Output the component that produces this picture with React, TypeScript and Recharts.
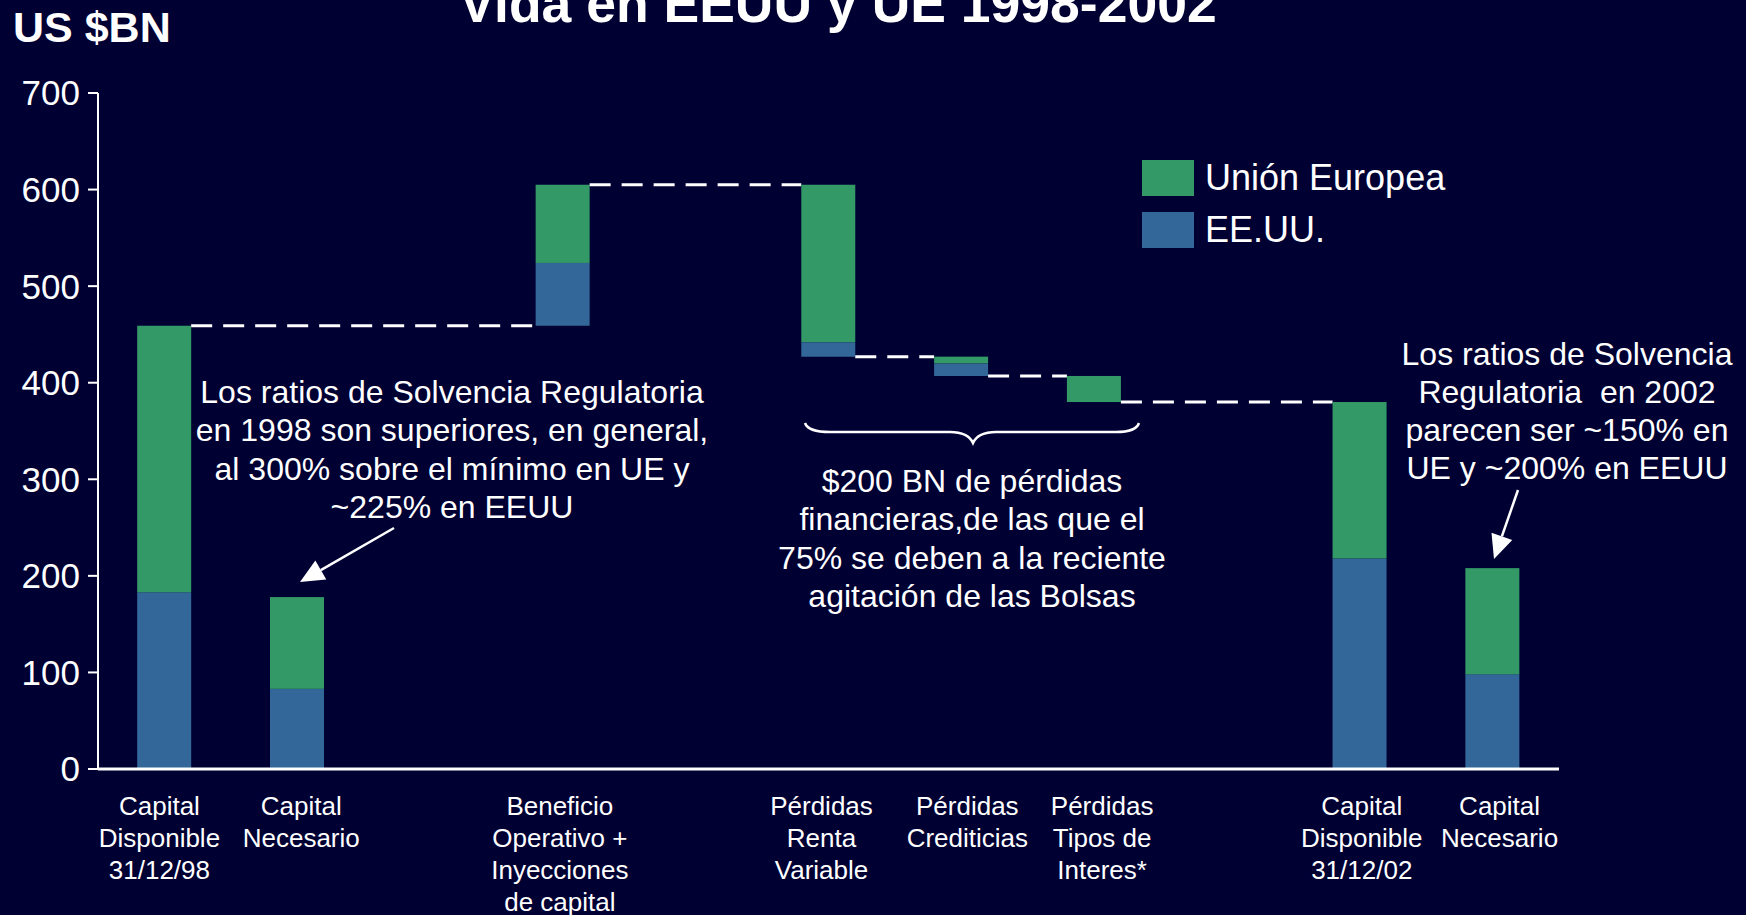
import React from "react";
import { BarChart, Bar, XAxis, YAxis, Legend } from "recharts";

const categories = [
  "Capital\nDisponible\n31/12/98",
  "Capital\nNecesario",
  "",
  "Beneficio\nOperativo +\nInyecciones\nde capital",
  "",
  "Pérdidas\nRenta\nVariable",
  "Pérdidas\nCrediticias",
  "Pérdidas\nTipos de\nInteres*",
  "",
  "Capital\nDisponible\n31/12/02",
  "Capital\nNecesario",
];
const baseValues = [0, 0, null, 459, null, 427, 407, 380, null, 0, 0];
const eeuuValues = [183, 83, null, 65, null, 15, 13, 0, null, 218, 98];
const ueValues = [276, 95, null, 81, null, 163, 7, 27, null, 162, 110];
const connectorLevels = [459, null, null, 605, null, 427, 407, 380, null, null, null];
const connectorTargets = [3, null, null, 5, null, 6, 7, 9, null, null, null];
const yTicks = [0, 100, 200, 300, 400, 500, 600, 700];

// small horizontal nudges of the category text boxes (layout only)
const LABEL_NUDGE = [-5, 4, 0, -3, 0, -7, 6, 8, 0, 2, 7];

const FONT = "'Liberation Sans', Arial, Helvetica, sans-serif";
const BG = "#000033";
const GREEN = "#339966";
const BLUE = "#336699";

const W = 1746;
const H = 915;
const MARGIN = { top: 93, right: 187, bottom: 0, left: 0 };
const Y_W = 98;
const X_H = 146;
const PLOT_W = W - MARGIN.left - MARGIN.right - Y_W;
const BAND = PLOT_W / categories.length;

const data = categories.map((c, i) => ({
  id: `c${i}`,
  idx: i,
  base: baseValues[i],
  eeuu: eeuuValues[i],
  ue: ueValues[i],
  conn: connectorLevels[i],
  connTo: connectorTargets[i],
}));

const UeShape = (props: any) => {
  const { x, y, width, height, payload, fill } = props;
  if (payload == null || payload.ue == null) return null;
  let line = null;
  if (payload.conn != null && payload.connTo != null && payload.ue > 0) {
    const top = (payload.base || 0) + (payload.eeuu || 0) + payload.ue;
    const ppu = height / payload.ue;
    const ly = y + (top - payload.conn) * ppu;
    const x1 = x + width;
    const x2 = x + (payload.connTo - payload.idx) * BAND;
    line = (
      <line x1={x1} y1={ly} x2={x2} y2={ly} stroke="#ffffff" strokeWidth={3} strokeDasharray="21 11" />
    );
  }
  return (
    <g>
      <rect x={x} y={y} width={width} height={height} fill={fill} />
      {line}
    </g>
  );
};

const XTick = (props: any) => {
  const { x, y, payload } = props;
  const label = categories[payload.index] || "";
  const lines = label ? label.split("\n") : [];
  const cx = x + (LABEL_NUDGE[payload.index] || 0);
  return (
    <text x={cx} y={y} textAnchor="middle" fill="#ffffff" fontSize={26} fontFamily={FONT}>
      {lines.map((l, i) => (
        <tspan key={i} x={cx} dy={i === 0 ? 46 : 32}>
          {l}
        </tspan>
      ))}
    </text>
  );
};

const LegendContent = () => {
  const items = [
    { name: "Unión Europea", color: GREEN },
    { name: "EE.UU.", color: BLUE },
  ];
  return (
    <div style={{ fontFamily: FONT }}>
      {items.map((it, i) => (
        <div key={i} style={{ display: "flex", alignItems: "center", height: 52 }}>
          <div style={{ width: 52, height: 36, background: it.color, marginRight: 11 }} />
          <span style={{ color: "#ffffff", fontSize: 36, lineHeight: "36px" }}>{it.name}</span>
        </div>
      ))}
    </div>
  );
};

function arrow(x1: number, y1: number, x2: number, y2: number) {
  const dx = x2 - x1;
  const dy = y2 - y1;
  const len = Math.sqrt(dx * dx + dy * dy);
  const ux = dx / len;
  const uy = dy / len;
  const hl = 24;
  const hw = 11;
  const bx = x2 - ux * hl;
  const by = y2 - uy * hl;
  const p1 = `${x2},${y2}`;
  const p2 = `${bx - uy * hw},${by + ux * hw}`;
  const p3 = `${bx + uy * hw},${by - ux * hw}`;
  return (
    <g>
      <line x1={x1} y1={y1} x2={bx} y2={by} stroke="#ffffff" strokeWidth={2.5} />
      <polygon points={`${p1} ${p2} ${p3}`} fill="#ffffff" />
    </g>
  );
}

const note1 = [
  "Los ratios de Solvencia Regulatoria",
  "en 1998 son superiores, en general,",
  "al 300% sobre el mínimo en UE y",
  "~225% en EEUU",
];
const note2 = [
  "$200 BN de pérdidas",
  "financieras,de las que el",
  "75% se deben a la reciente",
  "agitación de las Bolsas",
];
const note3 = [
  "Los ratios de Solvencia",
  "Regulatoria\u00a0\u00a0en 2002",
  "parecen ser ~150% en",
  "UE y ~200% en EEUU",
];

const TextBlock = ({ lines, cx, y0, step }: { lines: string[]; cx: number; y0: number; step: number }) => (
  <text textAnchor="middle" fill="#ffffff" fontSize={32} fontFamily={FONT}>
    {lines.map((l, i) => (
      <tspan key={i} x={cx} y={y0 + i * step}>
        {l}
      </tspan>
    ))}
  </text>
);

export default function App() {
  return (
    <div style={{ position: "absolute", left: 0, top: 0, width: W, height: H, background: BG, overflow: "hidden" }}>
      <div style={{ position: "absolute", left: 0, top: 0 }}>
        <BarChart width={W} height={H} data={data} margin={MARGIN} barCategoryGap="29.5%">
          <XAxis
            dataKey="id"
            interval={0}
            height={X_H}
            tickSize={0}
            tickMargin={0}
            tickLine={false}
            axisLine={{ stroke: "#ffffff", strokeWidth: 3 }}
            tick={<XTick />}
          />
          <YAxis
            width={Y_W}
            domain={[0, 700]}
            ticks={yTicks}
            interval={0}
            tickSize={10}
            tickMargin={8}
            axisLine={{ stroke: "#ffffff", strokeWidth: 2 }}
            tickLine={{ stroke: "#ffffff", strokeWidth: 2 }}
            tick={{ fill: "#ffffff", fontSize: 35, fontFamily: FONT }}
          />
          <Legend
            verticalAlign="middle"
            align="center"
            content={<LegendContent />}
            wrapperStyle={{ position: "absolute", left: 1142, top: 152, width: 400, height: 110 }}
          />
          <Bar dataKey="base" stackId="a" fill="transparent" legendType="none" isAnimationActive={false} />
          <Bar dataKey="eeuu" name="EE.UU." stackId="a" fill={BLUE} isAnimationActive={false} />
          <Bar dataKey="ue" name="Unión Europea" stackId="a" fill={GREEN} shape={<UeShape />} isAnimationActive={false} />
        </BarChart>
      </div>
      <svg width={W} height={H} style={{ position: "absolute", left: 0, top: 0, pointerEvents: "none" }}>
        <text x={838} y={22} textAnchor="middle" fill="#ffffff" fontSize={53.5} fontWeight="bold" fontFamily={FONT}>
          Vida en EEUU y UE 1998-2002
        </text>
        <text x={13} y={42} fill="#ffffff" fontSize={43} fontWeight="bold" fontFamily={FONT}>
          US $BN
        </text>
        <TextBlock lines={note1} cx={452} y0={403} step={38.3} />
        {arrow(394, 528, 300, 582)}
        <path
          d="M805,423 Q808,432 830,432 L950,432 Q968,432 973,443 Q978,432 996,432 L1116,432 Q1136,432 1139,423"
          fill="none"
          stroke="#ffffff"
          strokeWidth={2.5}
        />
        <TextBlock lines={note2} cx={972} y0={492} step={38.3} />
        <TextBlock lines={note3} cx={1567} y0={365} step={38} />
        {arrow(1518, 490, 1494, 559)}
      </svg>
    </div>
  );
}
